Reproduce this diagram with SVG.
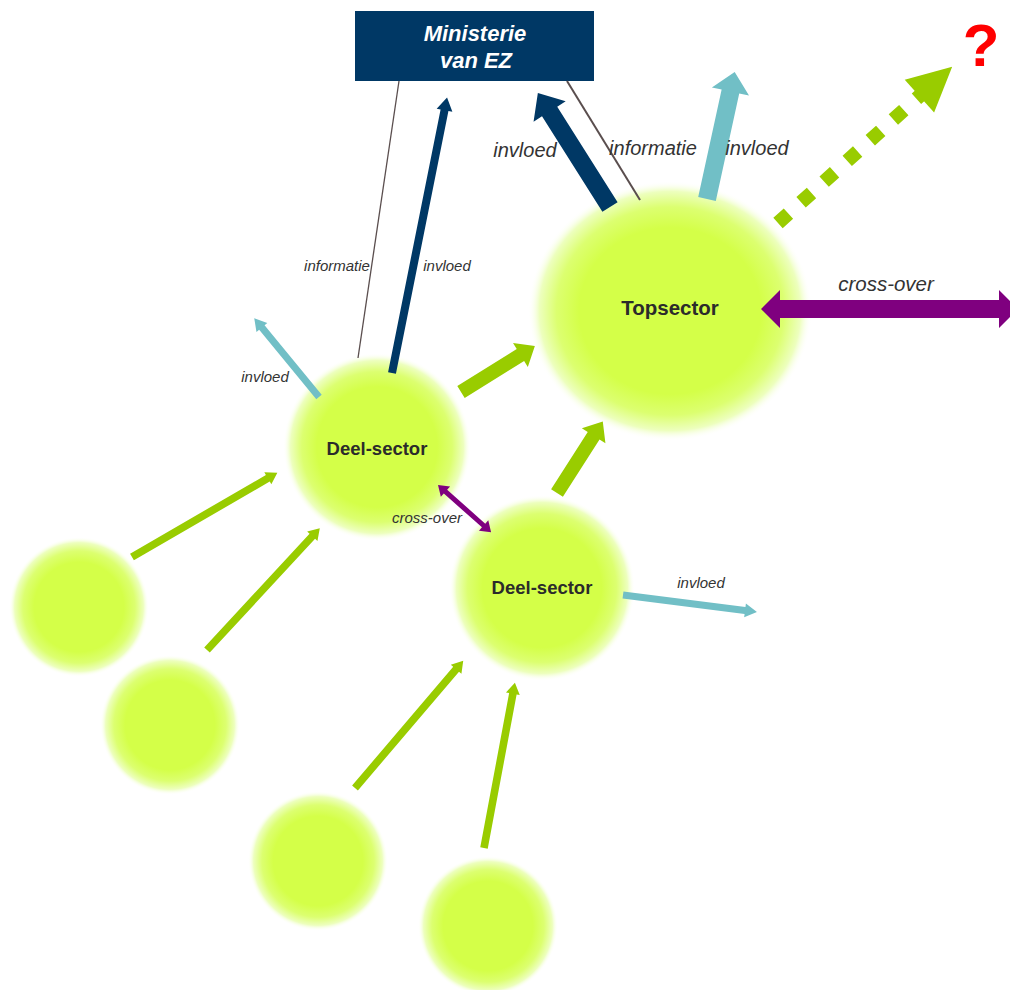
<svg xmlns="http://www.w3.org/2000/svg" width="1010" height="990" viewBox="0 0 1010 990">
<style>
.lbl{font-family:"Liberation Sans",Arial,sans-serif;font-style:italic;fill:#333333}
.s{font-size:15px}
.b{font-size:20px}
.node{font-family:"Liberation Sans",Arial,sans-serif;font-weight:bold;fill:#2b2b2b;text-anchor:middle}
.navy{fill:#003865}
.teal{fill:#71BFC6}
.green{fill:#99CC00}
.purple{fill:#7F007F}
.thin{stroke:#5a4e4e;fill:none}
</style>
<defs>
<radialGradient id="glow">
<stop offset="0" stop-color="#D4FF48"/>
<stop offset="0.64" stop-color="#D4FF48"/>
<stop offset="0.8" stop-color="#DCFF70"/>
<stop offset="0.92" stop-color="#EDFFBE"/>
<stop offset="1" stop-color="#FFFFFF" stop-opacity="0"/>
</radialGradient>
</defs>
<rect width="1010" height="990" fill="#ffffff"/>

<g id="node-topsector">
<ellipse cx="670" cy="311" rx="142" ry="130" fill="url(#glow)"/>
<text class="node" x="670" y="315" font-size="20.5">Topsector</text>
</g>
<g id="node-deelsector1">
<circle cx="377" cy="447" r="94" fill="url(#glow)"/>
<text class="node" x="377" y="455" font-size="18.5">Deel-sector</text>
</g>
<g id="node-deelsector2">
<circle cx="542" cy="588" r="93" fill="url(#glow)"/>
<text class="node" x="542" y="594" font-size="18.5">Deel-sector</text>
</g>
<g id="node-small1"><circle cx="79" cy="607" r="70" fill="url(#glow)"/></g>
<g id="node-small2"><circle cx="170" cy="725" r="70" fill="url(#glow)"/></g>
<g id="node-small3"><circle cx="318" cy="861" r="70" fill="url(#glow)"/></g>
<g id="node-small4"><circle cx="488" cy="926" r="70" fill="url(#glow)"/></g>

<g id="node-ministerie">
<rect x="355" y="11" width="239" height="70" class="navy"/>
<text x="475" y="41" font-family="Liberation Sans,Arial,sans-serif" font-weight="bold" font-style="italic" font-size="22" fill="#ffffff" text-anchor="middle">Ministerie</text>
<text x="476" y="68" font-family="Liberation Sans,Arial,sans-serif" font-weight="bold" font-style="italic" font-size="22" fill="#ffffff" text-anchor="middle">van EZ</text>
</g>
<g id="node-question">
<text x="981" y="66" font-family="Liberation Sans,Arial,sans-serif" font-weight="bold" font-size="60" fill="#FF0000" text-anchor="middle">?</text>
</g>

<g id="connectors">
<line class="thin" x1="358" y1="358" x2="399" y2="81" stroke-width="1.3"/>
<line class="thin" x1="640" y1="200" x2="567" y2="81" stroke-width="2"/>
<polygon class="navy" transform="translate(392,373) rotate(-78.7)" points="0,-4 268,-4 268,-8 281,0 268,8 268,4 0,4"/>
<polygon class="navy" transform="translate(610,207) rotate(-122.3)" points="0,-9 113,-9 113,-19 135,0 113,19 113,9 0,9"/>
<polygon class="teal" transform="translate(707,199) rotate(-77.7)" points="0,-9 110,-9 110,-19 130,0 110,19 110,9 0,9"/>
<g transform="translate(778,223) rotate(-41.9)">
<line x1="0" y1="0" x2="192" y2="0" stroke="#99CC00" stroke-width="14" stroke-dasharray="14 17"/>
<polygon class="green" points="190,-22 234,0 190,22"/>
</g>
<polygon class="purple" points="761,309 780,290 780,300 999,300 999,290 1018,309 999,328 999,318 780,318 780,328"/>
<polygon class="green" transform="translate(461,392) rotate(-31.9)" points="0,-7 70,-7 70,-14 87,0 70,14 70,7 0,7"/>
<polygon class="green" transform="translate(557,493) rotate(-57.4)" points="0,-7 68,-7 68,-14 85,0 68,14 68,7 0,7"/>
<polygon class="teal" transform="translate(319,397) rotate(-129.4)" points="0,-3.5 90,-3.5 90,-7 102,0 90,7 90,3.5 0,3.5"/>
<polygon class="purple" transform="translate(438,485) rotate(41.6)" points="0,0 10,-7 10,-2.5 61,-2.5 61,-7 71,0 61,7 61,2.5 10,2.5 10,7"/>
<polygon class="teal" transform="translate(623,595) rotate(7.2)" points="0,-3.5 123,-3.5 123,-7 135,0 123,7 123,3.5 0,3.5"/>
<polygon class="green" transform="translate(132,557) rotate(-30.1)" points="0,-3.8 157,-3.8 157,-7 168,0 157,7 157,3.8 0,3.8"/>
<polygon class="green" transform="translate(207,650) rotate(-47.2)" points="0,-3.8 155,-3.8 155,-7 166,0 155,7 155,3.8 0,3.8"/>
<polygon class="green" transform="translate(355,788) rotate(-49.6)" points="0,-3.8 156,-3.8 156,-7 167,0 156,7 156,3.8 0,3.8"/>
<polygon class="green" transform="translate(484,848) rotate(-79.4)" points="0,-3.8 157,-3.8 157,-7 168,0 157,7 157,3.8 0,3.8"/>
</g>

<g id="labels">
<text class="lbl s" x="337" y="271" text-anchor="middle">informatie</text>
<text class="lbl s" x="447" y="271" text-anchor="middle">invloed</text>
<text class="lbl b" x="525" y="157" text-anchor="middle">invloed</text>
<text class="lbl b" x="653" y="155" text-anchor="middle">informatie</text>
<text class="lbl b" x="757" y="155" text-anchor="middle">invloed</text>
<text class="lbl" x="886" y="291" font-size="20.5" text-anchor="middle">cross-over</text>
<text class="lbl s" x="265" y="382" text-anchor="middle">invloed</text>
<text class="lbl s" x="427" y="523" text-anchor="middle">cross-over</text>
<text class="lbl s" x="701" y="588" text-anchor="middle">invloed</text>
</g>
</svg>
